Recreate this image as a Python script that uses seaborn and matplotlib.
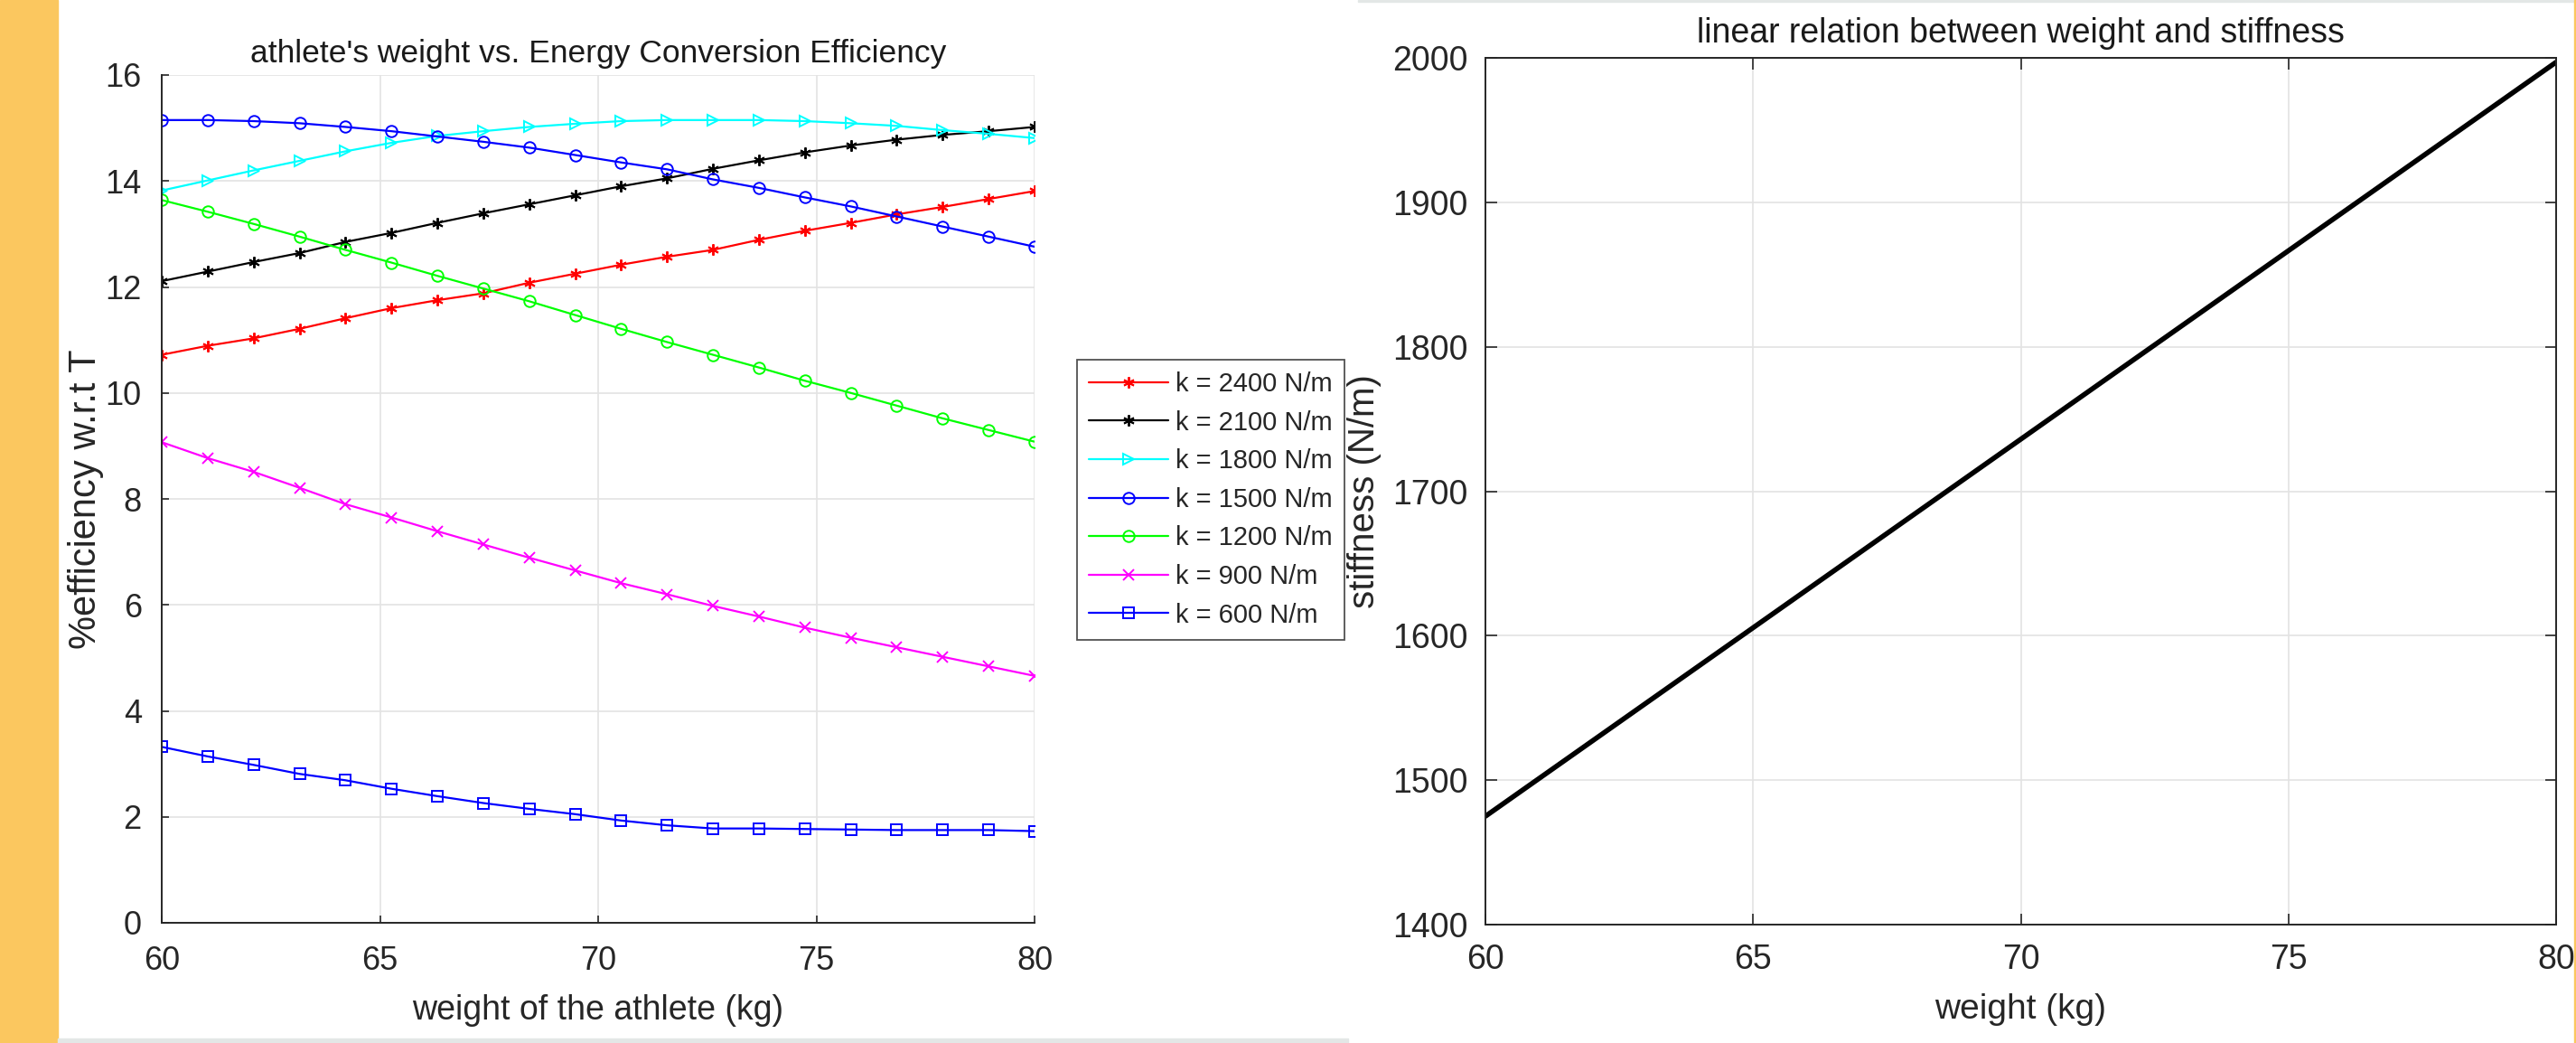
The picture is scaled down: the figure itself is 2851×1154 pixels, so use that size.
import matplotlib
matplotlib.use("Agg")
import matplotlib.pyplot as plt
import numpy as np
import pandas as pd
import seaborn as sns
from matplotlib.patches import Rectangle

# athlete weight (kg), 20 samples between 60 and 80
weight = np.linspace(60, 80, 20)

eff_2400 = [10.72, 10.89, 11.03, 11.21, 11.41, 11.60, 11.75, 11.88, 12.08, 12.25,
            12.42, 12.57, 12.70, 12.89, 13.06, 13.21, 13.37, 13.51, 13.66, 13.81]
eff_2100 = [12.11, 12.29, 12.47, 12.64, 12.85, 13.02, 13.21, 13.39, 13.56, 13.73,
            13.90, 14.05, 14.23, 14.39, 14.54, 14.67, 14.78, 14.87, 14.94, 15.02]
eff_1800 = [13.82, 14.01, 14.20, 14.38, 14.56, 14.72, 14.85, 14.94, 15.02, 15.08,
            15.13, 15.15, 15.15, 15.15, 15.13, 15.09, 15.04, 14.96, 14.89, 14.81]
eff_1500 = [15.15, 15.15, 15.13, 15.09, 15.02, 14.94, 14.84, 14.74, 14.63, 14.49,
            14.35, 14.22, 14.03, 13.87, 13.69, 13.52, 13.33, 13.14, 12.95, 12.76]
eff_1200 = [13.64, 13.42, 13.19, 12.95, 12.70, 12.46, 12.21, 11.97, 11.73, 11.47,
            11.21, 10.96, 10.72, 10.48, 10.23, 10.00, 9.76, 9.52, 9.30, 9.08]
eff_900 = [9.07, 8.77, 8.51, 8.21, 7.90, 7.65, 7.39, 7.14, 6.89, 6.65,
           6.41, 6.20, 5.98, 5.78, 5.57, 5.38, 5.20, 5.02, 4.84, 4.66]
eff_600 = [3.32, 3.14, 2.98, 2.81, 2.69, 2.53, 2.39, 2.26, 2.15, 2.05,
           1.93, 1.84, 1.78, 1.78, 1.77, 1.76, 1.75, 1.75, 1.75, 1.73]

labels = ["k = 2400 N/m", "k = 2100 N/m", "k = 1800 N/m", "k = 1500 N/m",
          "k = 1200 N/m", "k = 900 N/m", "k = 600 N/m"]
series = [eff_2400, eff_2100, eff_1800, eff_1500, eff_1200, eff_900, eff_600]
colors = ["#ff0000", "#000000", "#00ffff", "#0000ff", "#00ff00", "#ff00ff", "#0000ff"]
markers = [(6, 2, 0), (6, 2, 0), ">", "o", "o", "x", "s"]

# right panel: linear weight -> stiffness relation
line_weight = [60, 80]
line_stiffness = [1475, 1997]

sns.set_style("white")
plt.rcParams["font.family"] = ["Liberation Sans", "DejaVu Sans"]
plt.rcParams["axes.edgecolor"] = "#262626"
plt.rcParams["xtick.color"] = "#262626"
plt.rcParams["ytick.color"] = "#262626"

W, H = 2851, 1154
fig = plt.figure(figsize=(W / 100, H / 100), dpi=100)

# page decorations around the two figures
fig.patches.append(Rectangle((0, 0), 64 / W, 1, transform=fig.transFigure,
                             color="#fbc75f", zorder=0))
fig.patches.append(Rectangle((64 / W, 0), (1492 - 64) / W, 5 / H, transform=fig.transFigure,
                             color="#e3e7e6", zorder=0))
fig.patches.append(Rectangle((1503 / W, 1 - 2 / H), (2849 - 1503) / W, 2 / H,
                             transform=fig.transFigure, color="#e3e7e6", zorder=0))
fig.patches.append(Rectangle((2849 / W, 0), 2 / W, 1, transform=fig.transFigure,
                             color="#fbc75f", zorder=0))

# ---- left: efficiency curves
ax1 = fig.add_axes([179 / W, 1 - 1021 / H, (1145 - 179) / W, (1021 - 83) / H])
for y, lab, c, m in zip(series, labels, colors, markers):
    df = pd.DataFrame({"w": weight, "e": y})
    sns.lineplot(data=df, x="w", y="e", ax=ax1, color=c, marker=m, label=lab,
                 linewidth=1.6, markersize=9, markerfacecolor="none",
                 markeredgecolor=c, markeredgewidth=1.4, legend=False)

ax1.set_xlim(60, 80)
ax1.set_ylim(0, 16)
ax1.set_xticks([60, 65, 70, 75, 80])
ax1.set_yticks(range(0, 17, 2))
ax1.grid(True, color="#e3e3e3", linewidth=1.2)
for s in ["top", "right"]:
    ax1.spines[s].set_visible(False)
for s in ["left", "bottom"]:
    ax1.spines[s].set_linewidth(1.4)
ax1.tick_params(direction="in", length=6, width=1.2, labelsize=26, pad=16,
                left=True, bottom=True)
ax1.tick_params(axis="x", pad=18)
ax1.set_title("athlete's weight vs. Energy Conversion Efficiency", fontsize=25.5,
              color="#1a1a1a", pad=10)
ax1.set_xlabel("weight of the athlete (kg)", fontsize=27, color="#262626", labelpad=14)
ax1.set_ylabel("%efficiency w.r.t T", fontsize=30, color="#262626")
ax1.yaxis.set_label_coords(-0.066, 0.5)

handles, labs = ax1.get_legend_handles_labels()
leg = fig.legend(handles, labs, loc="upper left", bbox_to_anchor=(1192 / W, 1 - 398 / H),
                 fontsize=21, frameon=True, fancybox=False, edgecolor="#262626",
                 handlelength=3.0, handletextpad=0.3, borderpad=0.45, labelspacing=0.5,
                 borderaxespad=0)
leg.get_frame().set_linewidth(1.3)

# ---- right: stiffness vs weight
ax2 = fig.add_axes([1644 / W, 1 - 1023 / H, (2829 - 1644) / W, (1023 - 64) / H])
sns.lineplot(x=line_weight, y=line_stiffness, ax=ax2, color="black", linewidth=4)
ax2.set_xlim(60, 80)
ax2.set_ylim(1400, 2000)
ax2.set_xticks([60, 65, 70, 75, 80])
ax2.set_yticks(range(1400, 2001, 100))
ax2.grid(True, color="#e3e3e3", linewidth=1.2)
for s in ax2.spines.values():
    s.set_visible(True)
    s.set_linewidth(1.4)
ax2.tick_params(direction="in", length=9, width=1.2, labelsize=27, pad=14,
                top=True, right=True, left=True, bottom=True)
ax2.tick_params(axis="x", pad=15)
ax2.set_title("linear relation between weight and stiffness", fontsize=27,
              color="#1a1a1a", pad=12)
ax2.set_xlabel("weight (kg)", fontsize=28, color="#262626", labelpad=14)
ax2.set_ylabel("stiffness (N/m)", fontsize=29, color="#262626")
ax2.yaxis.set_label_coords(-0.097, 0.5)

fig.savefig("out.png", dpi=100, facecolor="white")
